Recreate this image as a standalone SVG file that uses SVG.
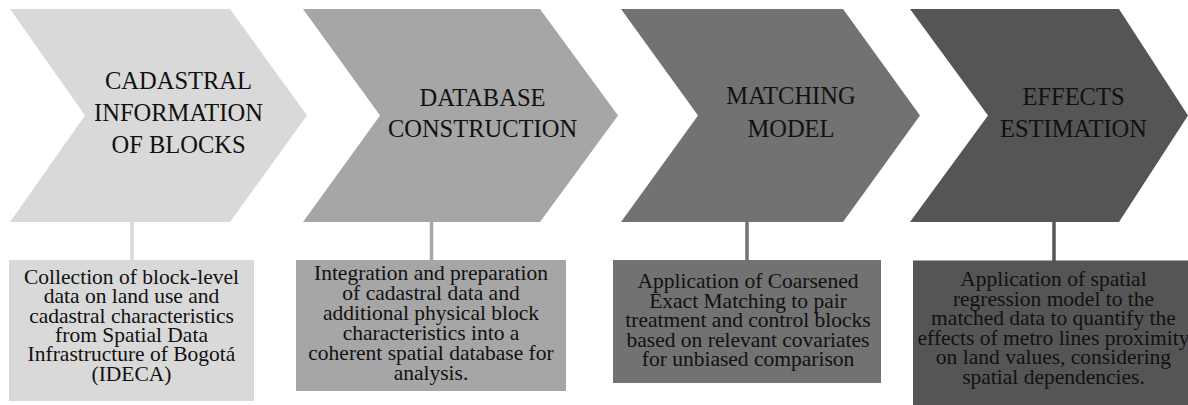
<svg xmlns="http://www.w3.org/2000/svg" width="1188" height="405" viewBox="0 0 1188 405">
<style>
text{font-family:'Liberation Serif','Times New Roman',Tinos,'DejaVu Serif',serif;fill:#111;text-anchor:middle}
.t{font-size:24.5px}
.d{font-size:21.5px}
.c{stroke-width:3.5;fill:none}
</style>
<rect width="1188" height="405" fill="#ffffff"/>
<g id="connectors">
<line class="c" x1="132" y1="222" x2="132" y2="261" stroke="#d9d9d9"/>
<line class="c" x1="431.5" y1="222" x2="431.5" y2="261" stroke="#a6a6a6"/>
<line class="c" x1="747" y1="222" x2="747" y2="261" stroke="#727272"/>
<line class="c" x1="1054" y1="222" x2="1054" y2="261" stroke="#555555"/>
</g>
<g id="step1">
<polygon points="10,9 230,9 307,115.5 230,222 10,222 85,115.5" fill="#d9d9d9"/>
<text class="t" font-family="Liberation Serif, serif"><tspan x="178.5" y="89">CADASTRAL</tspan><tspan x="178.5" y="121">INFORMATION</tspan><tspan x="178.5" y="153">OF BLOCKS</tspan></text>
</g>
<g id="step2">
<polygon points="303,9 540,9 618,115.5 540,222 303,222 380,115.5" fill="#a6a6a6"/>
<text class="t"><tspan x="482.5" y="106">DATABASE</tspan><tspan x="482.5" y="137">CONSTRUCTION</tspan></text>
</g>
<g id="step3">
<polygon points="621,9 843,9 920,115.5 843,222 621,222 698,115.5" fill="#727272"/>
<text class="t"><tspan x="791" y="104">MATCHING</tspan><tspan x="791" y="136.5">MODEL</tspan></text>
</g>
<g id="step4">
<polygon points="910,9 1119,9 1188,115.5 1119,222 910,222 988,115.5" fill="#555555"/>
<text class="t"><tspan x="1073.5" y="105">EFFECTS</tspan><tspan x="1073.5" y="136.5">ESTIMATION</tspan></text>
</g>
<g id="box1">
<rect x="9" y="260" width="245" height="141" fill="#d9d9d9"/>
<text class="d"><tspan x="131.5" y="284">Collection of block-level</tspan><tspan x="131.5" y="303.3">data on land use and</tspan><tspan x="131.5" y="322.6">cadastral characteristics</tspan><tspan x="131.5" y="341.9">from Spatial Data</tspan><tspan x="131.5" y="361.2">Infrastructure of Bogotá</tspan><tspan x="131.5" y="380.5">(IDECA)</tspan></text>
</g>
<g id="box2">
<rect x="296" y="260" width="270" height="131" fill="#a6a6a6"/>
<text class="d"><tspan x="431" y="279.5">Integration and preparation</tspan><tspan x="431" y="299.5">of cadastral data and</tspan><tspan x="431" y="319.5">additional physical block</tspan><tspan x="431" y="339.5">characteristics into a</tspan><tspan x="431" y="359.5">coherent spatial database for</tspan><tspan x="431" y="379.5">analysis.</tspan></text>
</g>
<g id="box3">
<rect x="613" y="260" width="268" height="123" fill="#727272"/>
<text class="d"><tspan x="748" y="288">Application of Coarsened</tspan><tspan x="748" y="307.5">Exact Matching to pair</tspan><tspan x="748" y="327">treatment and control blocks</tspan><tspan x="748" y="346.5">based on relevant covariates</tspan><tspan x="748" y="366">for unbiased comparison</tspan></text>
</g>
<g id="box4">
<rect x="913" y="260.5" width="280" height="150" fill="#555555"/>
<text class="d"><tspan x="1053.5" y="286">Application of spatial</tspan><tspan x="1053.5" y="305.5">regression model to the</tspan><tspan x="1053.5" y="325">matched data to quantify the</tspan><tspan x="1053.5" y="344.5">effects of metro lines proximity</tspan><tspan x="1053.5" y="364">on land values, considering</tspan><tspan x="1053.5" y="383.5">spatial dependencies.</tspan></text>
</g>
</svg>
